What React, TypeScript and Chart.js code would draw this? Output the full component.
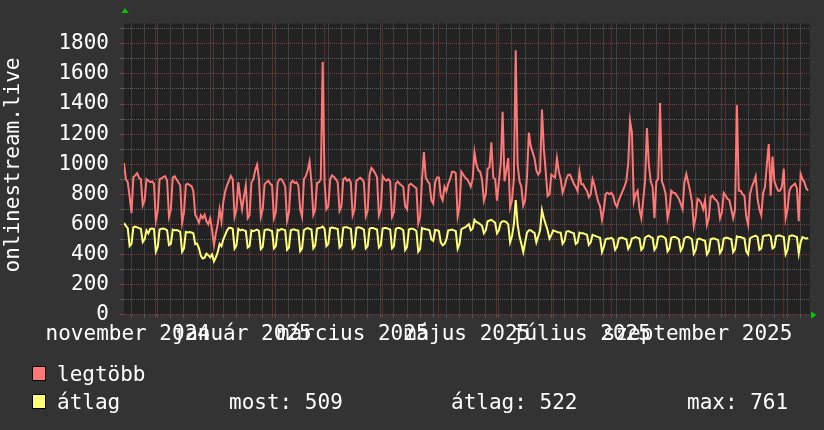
import React, { useEffect, useRef } from 'react';
import { Chart, registerables } from 'chart.js';

Chart.register(...registerables);

// ---- data ----
const START_UTC = Date.UTC(2024, 10, 14); // first daily sample (day 0)
const DAYS_SHOWN = 366;
const Y_MAX = 1935;
const Y_TITLE = 'onlinestream.live';

// legtöbb (daily max), one row per week
const LEGTOBB: number[] = [
  1007, 900, 880, 784, 675, 913, 925,
  940, 910, 900, 726, 760, 900, 890,
  880, 885, 870, 624, 690, 900, 905,
  915, 920, 890, 650, 700, 910, 920,
  900, 880, 860, 611, 680, 862, 870,
  860, 855, 820, 664, 640, 611, 660,
  640, 664, 620, 600, 640, 560, 461,
  540, 600, 700, 620, 750, 820, 860,
  890, 922, 900, 650, 700, 880, 780,
  700, 784, 860, 640, 660, 880, 900,
  960, 997, 900, 650, 700, 865, 880,
  890, 870, 860, 640, 680, 880, 900,
  900, 880, 850, 624, 680, 875, 890,
  875, 880, 860, 700, 650, 900, 920,
  960, 1018, 880, 664, 700, 875, 880,
  900, 1680, 880, 700, 720, 900, 926,
  915, 900, 880, 690, 720, 900, 910,
  890, 900, 880, 660, 700, 890, 900,
  910, 900, 880, 653, 690, 930, 975,
  960, 940, 912, 660, 700, 920, 900,
  890, 900, 885, 650, 680, 870, 885,
  870, 860, 848, 720, 700, 860, 870,
  860, 850, 840, 606, 653, 900, 1080,
  911, 886, 870, 760, 737, 880, 911,
  911, 789, 760, 850, 820, 870, 900,
  950, 950, 940, 653, 720, 950, 930,
  911, 900, 880, 850, 900, 1080, 1000,
  960, 950, 900, 757, 800, 970, 980,
  1145, 911, 900, 757, 880, 1000, 1349,
  886, 960, 1040, 711, 760, 900, 1757,
  1000, 886, 850, 724, 760, 911, 1210,
  1120, 1080, 1040, 960, 930, 950, 1364,
  1100, 950, 788, 800, 930, 920, 911,
  1040, 950, 900, 810, 850, 900, 930,
  930, 900, 870, 850, 820, 950, 866,
  866, 840, 823, 780, 800, 900, 860,
  800, 750, 720, 630, 700, 802, 810,
  800, 810, 790, 737, 715, 760, 790,
  820, 850, 888, 1000, 1288, 1210, 750,
  800, 823, 700, 640, 760, 886, 1241,
  1000, 886, 850, 640, 886, 900, 1407,
  886, 850, 800, 640, 700, 823, 810,
  808, 790, 770, 737, 700, 880, 935,
  880, 823, 750, 587, 650, 770, 760,
  740, 700, 760, 596, 640, 782, 790,
  770, 760, 740, 640, 680, 808, 790,
  770, 760, 700, 640, 700, 1392, 823,
  823, 800, 790, 650, 596, 800, 850,
  880, 920, 770, 700, 660, 808, 850,
  1000, 1134, 790, 1050, 887, 850, 823,
  823, 850, 970, 640, 700, 823, 850,
  860, 870, 840, 620, 935, 900, 880,
  840, 823,
];

// átlag (daily average), one row per week
const ATLAG: number[] = [
  608, 590, 575, 455, 470, 580, 585,
  580, 575, 570, 482, 500, 560, 540,
  570, 572, 568, 418, 450, 565, 570,
  572, 568, 560, 462, 470, 565, 560,
  562, 558, 550, 418, 440, 550, 545,
  548, 545, 540, 468, 472, 440, 390,
  372, 378, 405, 395, 380, 400, 354,
  380, 415, 470, 455, 500, 530, 560,
  577, 575, 570, 439, 460, 570, 560,
  565, 560, 555, 445, 455, 560, 555,
  560, 565, 555, 435, 450, 560, 565,
  565, 560, 555, 440, 455, 565, 560,
  570, 565, 560, 430, 445, 560, 565,
  565, 560, 558, 422, 440, 560, 570,
  575, 570, 565, 440, 460, 570, 575,
  578, 585, 570, 455, 470, 575, 578,
  575, 572, 570, 445, 460, 578, 580,
  580, 575, 570, 440, 455, 575, 580,
  578, 572, 565, 440, 455, 570, 575,
  575, 570, 565, 445, 460, 572, 575,
  575, 570, 565, 440, 455, 570, 576,
  575, 570, 560, 430, 450, 565, 570,
  570, 565, 555, 418, 437, 576, 570,
  567, 565, 560, 500, 490, 562, 560,
  555, 480, 460, 470, 500, 560, 562,
  565, 560, 555, 437, 470, 567, 575,
  580, 590, 600, 560, 570, 630, 615,
  610, 600, 590, 540, 560, 620, 625,
  630, 620, 610, 540, 560, 610, 620,
  620, 615, 600, 480, 520, 600, 761,
  600, 520, 470, 415, 480, 544, 560,
  560, 550, 544, 480, 520, 560, 694,
  640, 600, 560, 505, 530, 560, 555,
  550, 545, 544, 470, 490, 550, 555,
  550, 545, 540, 470, 480, 545, 540,
  540, 535, 530, 463, 480, 530, 525,
  520, 515, 510, 415, 450, 501, 505,
  505, 510, 500, 430, 450, 505, 510,
  510, 505, 500, 437, 460, 505, 510,
  515, 510, 505, 430, 445, 510, 520,
  525, 515, 510, 430, 450, 515, 520,
  520, 515, 505, 420, 440, 510, 515,
  515, 510, 500, 425, 445, 505, 515,
  515, 510, 500, 405, 430, 500, 505,
  500, 495, 490, 400, 420, 500, 505,
  505, 500, 495, 410, 430, 505, 510,
  510, 505, 500, 415, 435, 520, 515,
  515, 510, 505, 420, 400, 505, 515,
  520, 525, 515, 430, 440, 520, 525,
  525, 530, 520, 440, 450, 520, 525,
  525, 520, 515, 400, 430, 520, 525,
  525, 520, 515, 405, 480, 515, 510,
  505, 509,
];

// month labels (every two months), [year, monthIndex, text]
const X_LABELS: [number, number, string][] = [
  [2024, 10, 'november 2024'],
  [2025, 0, 'január 2025'],
  [2025, 2, 'március 2025'],
  [2025, 4, 'május 2025'],
  [2025, 6, 'július 2025'],
  [2025, 8, 'szeptember 2025'],
];
// major (month) grid lines, [year, monthIndex]
const MONTH_LINES: [number, number][] = [
  [2024, 11], [2025, 0], [2025, 1], [2025, 2], [2025, 3], [2025, 4],
  [2025, 5], [2025, 6], [2025, 7], [2025, 8], [2025, 9], [2025, 10],
];
const Y_GRID = [0, 100, 200, 300, 400, 500, 600, 700, 800, 900, 1000, 1100, 1200, 1300, 1400, 1500, 1600, 1700, 1800, 1900];
const Y_LABELED = [0, 200, 400, 600, 800, 1000, 1200, 1400, 1600, 1800];

const SERIES_NAMES = ['legtöbb', 'átlag'];
const LEGEND_STATS = ['most: 509', 'átlag: 522', 'max: 761'];

// ---- style ----
const FONT = '"DejaVu Sans Mono", "Liberation Mono", monospace';
const RED_LINE = '#ff7777';
const YELLOW_LINE = '#ffff77';
const GRID_MINOR = '#5e5e5e';
const GRID_MAJOR = '#8c3c3c';

const dayOf = (y: number, m: number, d = 1) => (Date.UTC(y, m, d) - START_UTC) / 86400000;

const monthDays = MONTH_LINES.map(([y, m]) => dayOf(y, m));
const mondayDays: number[] = [];
for (let d = 0; d <= DAYS_SHOWN; d++) {
  if (new Date(START_UTC + d * 86400000).getUTCDay() === 1) mondayDays.push(d);
}
const xGridDays = Array.from(new Set([...mondayDays, ...monthDays])).sort((a, b) => a - b);

const rrdPlugin = {
  id: 'rrdLook',
  beforeDraw(chart: any) {
    const { ctx, chartArea: a } = chart;
    ctx.save();
    ctx.fillStyle = '#333333';
    ctx.fillRect(0, 0, chart.width, chart.height);
    ctx.fillStyle = '#222222';
    ctx.fillRect(a.left, a.top, a.right - a.left, a.bottom - a.top);
    ctx.restore();
  },
  beforeDatasetsDraw(chart: any) {
    const { ctx, chartArea: a, scales } = chart;
    const xs = scales.x;
    const ys = scales.y;
    ctx.save();
    ctx.lineWidth = 1;
    ctx.setLineDash([1, 1]);
    const drawSet = (major: boolean) => {
      ctx.strokeStyle = major ? GRID_MAJOR : GRID_MINOR;
      ctx.beginPath();
      for (const t of ys.ticks) {
        if ((t.value % 200 === 0) !== major) continue;
        const py = Math.floor(ys.getPixelForValue(t.value)) + 0.5;
        ctx.moveTo(a.left, py);
        ctx.lineTo(a.right, py);
      }
      for (const t of xs.ticks) {
        if (monthDays.includes(t.value) !== major) continue;
        const px = Math.floor(xs.getPixelForValue(t.value)) + 0.5;
        ctx.moveTo(px, a.top);
        ctx.lineTo(px, a.bottom);
      }
      ctx.stroke();
    };
    drawSet(false);
    drawSet(true);
    ctx.restore();
  },
  afterDraw(chart: any) {
    const { ctx, scales } = chart;
    const xs = scales.x;
    ctx.save();
    ctx.font = `21px ${FONT}`;
    ctx.fillStyle = '#ffffff';
    ctx.textAlign = 'center';
    ctx.textBaseline = 'alphabetic';
    for (const [y, m, text] of X_LABELS) {
      ctx.fillText(text, xs.getPixelForValue(dayOf(y, m) + 15), 340);
    }
    // y title
    ctx.save();
    ctx.translate(18.5, 165);
    ctx.rotate(-Math.PI / 2);
    ctx.fillText(Y_TITLE, 0, 0);
    ctx.restore();

    // arrows
    ctx.fillStyle = '#00cc00';
    ctx.beginPath();
    ctx.moveTo(121.5, 13);
    ctx.lineTo(128.5, 13);
    ctx.lineTo(125, 8);
    ctx.closePath();
    ctx.fill();
    ctx.beginPath();
    ctx.moveTo(811, 311.5);
    ctx.lineTo(811, 318.5);
    ctx.lineTo(816.5, 315);
    ctx.closePath();
    ctx.fill();

    // legend
    const colors = [RED_LINE, YELLOW_LINE];
    const rows = [366, 394];
    ctx.textAlign = 'left';
    for (let i = 0; i < 2; i++) {
      ctx.fillStyle = colors[i];
      ctx.fillRect(32, rows[i], 14, 15);
      ctx.strokeStyle = '#000000';
      ctx.lineWidth = 1;
      ctx.strokeRect(32.5, rows[i] + 0.5, 13, 14);
      ctx.fillStyle = '#ffffff';
      ctx.fillText(SERIES_NAMES[i], 57, rows[i] + 15);
    }
    const statX = [229, 451, 687];
    LEGEND_STATS.forEach((t, i) => ctx.fillText(t, statX[i], 409));
    ctx.restore();
  },
};

export default function App() {
  const ref = useRef<HTMLCanvasElement | null>(null);
  useEffect(() => {
    if (!ref.current) return;
    const chart = new Chart(ref.current, {
      type: 'line',
      data: {
        datasets: [
          {
            label: SERIES_NAMES[0],
            data: LEGTOBB.map((v, i) => ({ x: i, y: v })),
            borderColor: RED_LINE,
            borderWidth: 2,
            pointRadius: 0,
            tension: 0,
          },
          {
            label: SERIES_NAMES[1],
            data: ATLAG.map((v, i) => ({ x: i, y: v })),
            borderColor: YELLOW_LINE,
            borderWidth: 2,
            pointRadius: 0,
            tension: 0,
          },
        ],
      },
      options: {
        animation: false,
        responsive: false,
        devicePixelRatio: 1,
        layout: { padding: { top: 14, right: 14, left: 0, bottom: 0 } },
        plugins: { legend: { display: false }, tooltip: { enabled: false } },
        scales: {
          x: {
            type: 'linear',
            min: 0,
            max: DAYS_SHOWN,
            afterFit: (s: any) => { s.height = 115.5; },
            afterBuildTicks: (s: any) => { s.ticks = xGridDays.map((v) => ({ value: v })); },
            ticks: { display: false },
            grid: {
              drawOnChartArea: false,
              color: (c: any) => (c.tick && monthDays.includes(c.tick.value) ? GRID_MAJOR : GRID_MINOR),
              lineWidth: 1,
              tickLength: 3,
            },
            border: { display: false },
          },
          y: {
            min: 0,
            max: Y_MAX,
            afterFit: (s: any) => { s.width = 124; },
            afterBuildTicks: (s: any) => { s.ticks = Y_GRID.map((v) => ({ value: v })); },
            ticks: {
              autoSkip: false,
              padding: 11,
              color: '#ffffff',
              font: { family: FONT, size: 21 },
              callback: (v: any) => (Y_LABELED.includes(Number(v)) ? String(v) : ''),
            },
            grid: {
              drawOnChartArea: false,
              color: (c: any) => (c.tick && c.tick.value % 200 === 0 ? GRID_MAJOR : GRID_MINOR),
              lineWidth: 1,
              tickLength: 4,
            },
            border: { display: false },
          },
        },
      },
      plugins: [rrdPlugin],
    });
    return () => chart.destroy();
  }, []);
  return (
    <div style={{ position: 'absolute', left: 0, top: 0, width: 824, height: 430 }}>
      <canvas ref={ref} width={824} height={430} style={{ display: 'block', width: 824, height: 430 }} />
    </div>
  );
}
